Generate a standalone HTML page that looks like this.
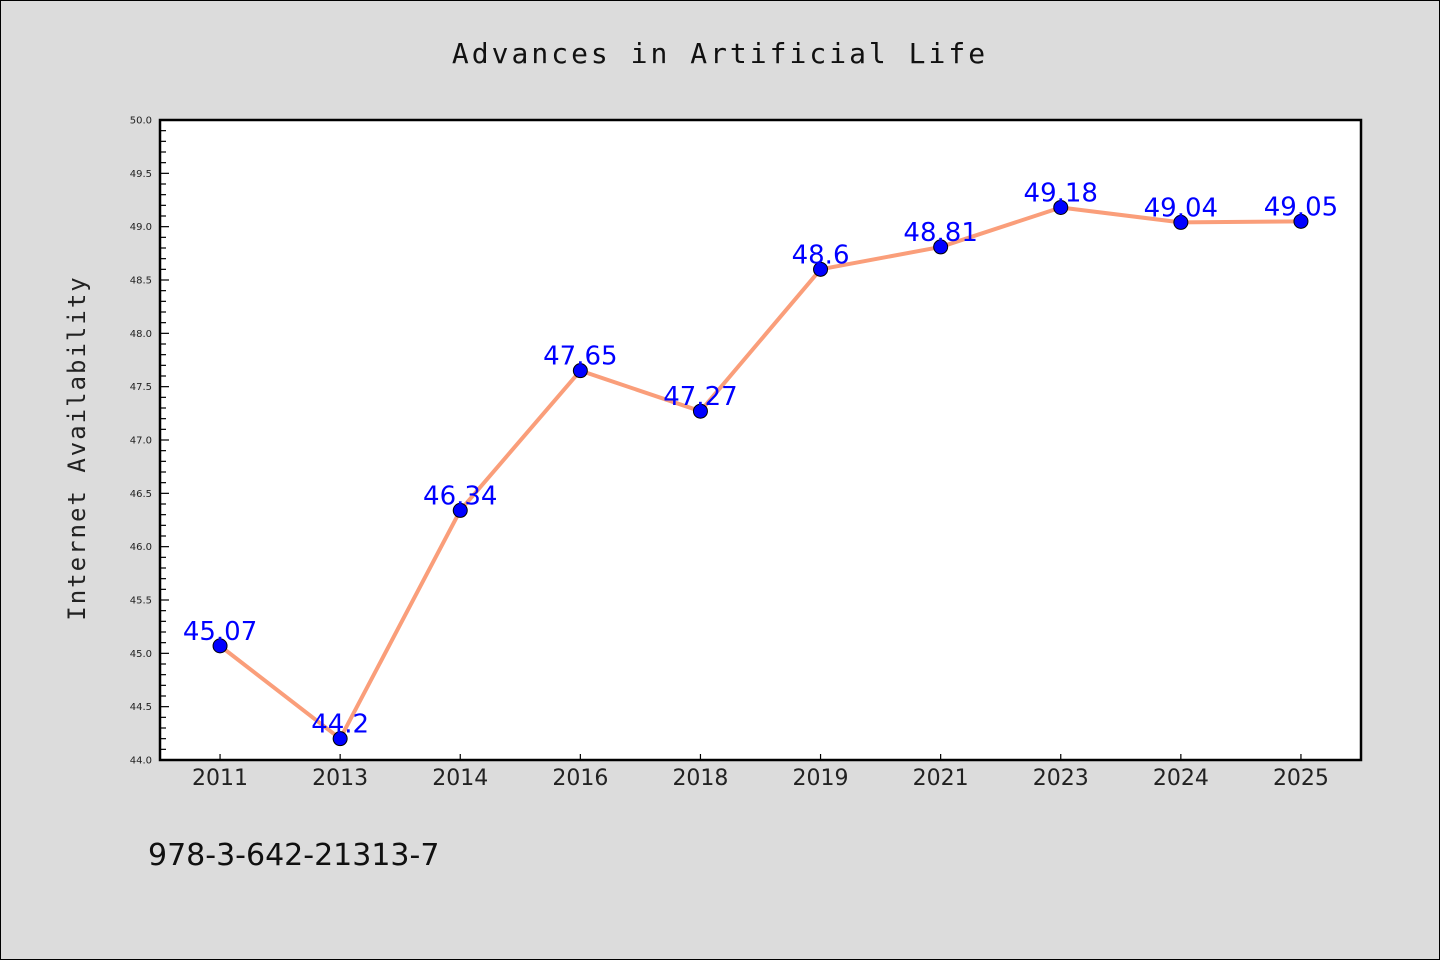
<!DOCTYPE html>
<html><head><meta charset="utf-8"><style>
html,body{margin:0;padding:0;background:#dcdcdc;}
svg{display:block;font-family:"DejaVu Sans","Liberation Sans",sans-serif;}
</style></head><body>
<svg id="chart" width="1440" height="960" xmlns="http://www.w3.org/2000/svg">
<rect x="0.5" y="0.5" width="1439" height="959" fill="#dcdcdc" stroke="#000" stroke-width="1"/>
<text x="720" y="63" text-anchor="middle" font-size="28" letter-spacing="3" fill="#111" font-family="'DejaVu Sans Mono','Liberation Mono',monospace">Advances in Artificial Life</text>
<rect x="160" y="120" width="1201" height="640" fill="#fff"/>
<g id="ticks"></g>
<g id="series"></g>
<rect x="160" y="120" width="1201" height="640" fill="none" stroke="#000" stroke-width="2.5"/>
<text transform="translate(85,448) rotate(-90)" text-anchor="middle" font-size="24" letter-spacing="2" fill="#222" font-family="'DejaVu Sans Mono','Liberation Mono',monospace">Internet Availability</text>
<text x="148" y="865" font-size="30" fill="#111">978-3-642-21313-7</text>
</svg>
<script>
const categories = ["2011","2013","2014","2016","2018","2019","2021","2023","2024","2025"];
const values = [45.07,44.2,46.34,47.65,47.27,48.6,48.81,49.18,49.04,49.05];
const valueLabels = ["45.07","44.2","46.34","47.65","47.27","48.6","48.81","49.18","49.04","49.05"];
const yTickLabels = ["44.0","44.5","45.0","45.5","46.0","46.5","47.0","47.5","48.0","48.5","49.0","49.5","50.0"];
const yMin = 44, yMax = 50;
const NS = "http://www.w3.org/2000/svg";
const L = 160, R = 1361, T = 120, B = 760;
const step = (R - L) / categories.length;
function x(i){ return L + step * (i + 0.5); }
function y(v){ return B - (v - yMin) / (yMax - yMin) * (B - T); }
function mk(tag, attrs, parent){ const e = document.createElementNS(NS, tag); for (const k in attrs) e.setAttribute(k, attrs[k]); parent.appendChild(e); return e; }
const tg = document.getElementById("ticks");
for (let k = 0; k <= 60; k++) {
  const v = yMin + k * 0.1, yy = y(v), major = k % 5 === 0;
  const t = mk("line", {x1: L, x2: L + (major ? 9 : 6), y1: yy, y2: yy, stroke: "#000", "stroke-width": 1.2}, tg);
  
  
}
yTickLabels.forEach(function(s){
  const v = parseFloat(s);
  const t = mk("text", {x: 152, y: y(v) + 3.5, "text-anchor": "end", "font-size": 10, fill: "#222"}, tg);
  t.textContent = s;
  
  
});
categories.forEach(function(c, i){
  const l = mk("line", {x1: x(i), x2: x(i), y1: B, y2: B - 6, stroke: "#000", "stroke-width": 1.2}, tg);
  
  
  const t = mk("text", {x: x(i), y: B + 25, "text-anchor": "middle", "font-size": 22, fill: "#222"}, tg);
  t.textContent = c;
  
  
});
const sg = document.getElementById("series");
const pts = values.map(function(v, i){ return x(i) + "," + y(v); }).join(" ");
const line = mk("polyline", {points: pts, fill: "none", stroke: "#fa9e7a", "stroke-width": 4, "stroke-linejoin": "round"}, sg);


values.forEach(function(v, i){
  const c = mk("circle", {cx: x(i), cy: y(v), r: 7, fill: "#0000ff", stroke: "#000", "stroke-width": 1}, sg);
  
  
  const t = mk("text", {x: x(i), y: y(v) - 6, "text-anchor": "middle", "font-size": 26, fill: "#0000ff"}, sg);
  t.textContent = valueLabels[i];
  
  
});
</script>
</body></html>
